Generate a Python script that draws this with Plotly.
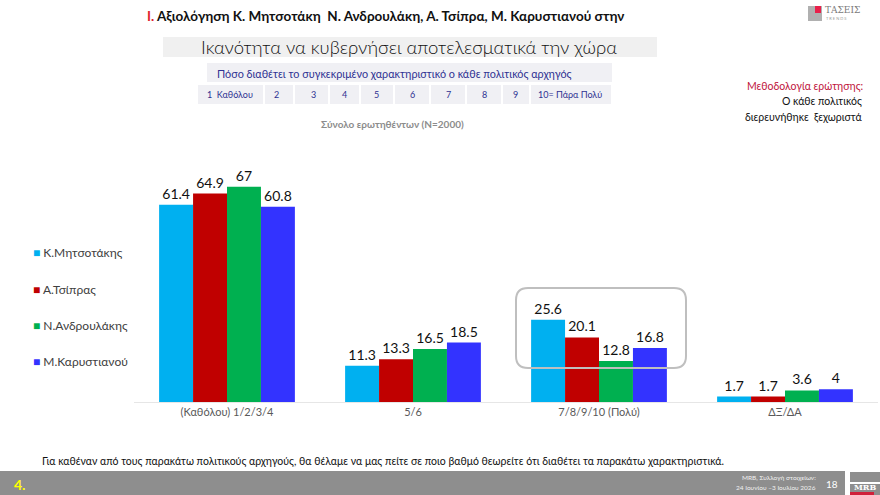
import plotly.graph_objects as go

categories = ["(Καθόλου) 1/2/3/4", "5/6", "7/8/9/10 (Πολύ)", "ΔΞ/ΔΑ"]
series_names = ["Κ.Μητσοτάκης", "Α.Τσίπρας", "Ν.Ανδρουλάκης", "Μ.Καρυστιανού"]
mitsotakis = [61.4, 11.3, 25.6, 1.7]
tsipras = [64.9, 13.3, 20.1, 1.7]
androulakis = [67, 16.5, 12.8, 3.6]
karystianou = [60.8, 18.5, 16.8, 4]
colors = ["#00B0F0", "#C00000", "#00B050", "#3333FF"]
scale_labels = ["1  Καθόλου", "2", "3", "4", "5", "6", "7", "8", "9", "10= Πάρα Πολύ"]

FONT = "Lato"
W, H = 880, 495
ML, MR, MT, MB = 134, 2, 145, 93
PW, PH = W - ML - MR, H - MT - MB


def X(px):
    return (px - ML) / PW


def Y(py):
    return 1 - (py - MT) / PH


fig = go.Figure()
for name, vals, col in zip(series_names, [mitsotakis, tsipras, androulakis, karystianou], colors):
    fig.add_trace(go.Bar(
        x=categories, y=vals, name=name, marker=dict(color=col, line=dict(width=0)),
        text=[f"{v:g}" for v in vals], textposition="outside",
        textfont=dict(family=FONT, size=14, color="#111111"), cliponaxis=False,
        showlegend=False,
    ))

annotations = []
shapes = []

# Legend (left)
leg_y = [252, 289, 325, 361]
for name, col, py in zip(series_names, colors, leg_y):
    annotations.append(dict(
        xref="paper", yref="paper", x=X(31), y=Y(py), xanchor="left", yanchor="middle",
        text=f"<span style='color:{col}'>■</span> {name}", showarrow=False,
        font=dict(family=FONT, size=12, color="#404040")))

# Top title
annotations.append(dict(
    xref="paper", yref="paper", x=X(145), y=Y(16), xanchor="left", yanchor="middle",
    text="<b><span style='color:#E0202A'>Ι.</span> Αξιολόγηση Κ. Μητσοτάκη  Ν. Ανδρουλάκη, Α. Τσίπρα, Μ. Καρυστιανού στην</b>",
    showarrow=False, font=dict(family=FONT, size=13.5, color="#111111")))

# Logo top-right
shapes.append(dict(type="rect", xref="paper", yref="paper", x0=X(808), x1=X(822), y0=Y(21), y1=Y(6),
                   fillcolor="#B0B0B0", line=dict(width=0)))
shapes.append(dict(type="rect", xref="paper", yref="paper", x0=X(815), x1=X(821), y0=Y(13), y1=Y(6),
                   fillcolor="#E8204A", line=dict(width=0)))
annotations.append(dict(xref="paper", yref="paper", x=X(823), y=Y(10), xanchor="left", yanchor="middle",
                        text="ΤΑΣΕΙΣ", showarrow=False, font=dict(family="DejaVu Serif", size=9, color="#7a7a7a")))
annotations.append(dict(xref="paper", yref="paper", x=X(824), y=Y(18), xanchor="left", yanchor="middle",
                        text="T R E N D S", showarrow=False, font=dict(family=FONT, size=4, color="#999999")))

# Main subtitle box
shapes.append(dict(type="rect", xref="paper", yref="paper", x0=X(163), x1=X(657), y0=Y(57), y1=Y(37),
                   fillcolor="#F0F0F0", line=dict(width=0), layer="below"))
annotations.append(dict(xref="paper", yref="paper", x=X(409), y=Y(47), xanchor="center", yanchor="middle",
                        text="Ικανότητα να κυβερνήσει αποτελεσματικά την χώρα", showarrow=False,
                        font=dict(family=FONT, size=18.5, color="#111111", weight=300)))

# Question box
shapes.append(dict(type="rect", xref="paper", yref="paper", x0=X(207), x1=X(612), y0=Y(82), y1=Y(63),
                   fillcolor="#F0F0F4", line=dict(width=0), layer="below"))
annotations.append(dict(xref="paper", yref="paper", x=X(215), y=Y(73), xanchor="left", yanchor="middle",
                        text="Πόσο διαθέτει το συγκεκριμένο χαρακτηριστικό ο κάθε πολιτικός αρχηγός", showarrow=False,
                        font=dict(family=FONT, size=10.8, color="#2E3192")))

# Scale row
cell_edges = [197, 264, 294, 329, 360, 394, 430, 466, 502, 530, 612]
scale_x = [230, 276, 313, 344, 376, 412, 448, 484, 515, 570]
for i in range(len(cell_edges) - 1):
    shapes.append(dict(type="rect", xref="paper", yref="paper", x0=X(cell_edges[i] + 1), x1=X(cell_edges[i + 1] - 1),
                       y0=Y(104), y1=Y(85), fillcolor="#F0F0F4", line=dict(width=0), layer="below"))
for lab, px in zip(scale_labels, scale_x):
    annotations.append(dict(xref="paper", yref="paper", x=X(px), y=Y(94), xanchor="center", yanchor="middle",
                            text=lab, showarrow=False, font=dict(family=FONT, size=9, color="#2E3192")))

# Methodology
annotations.append(dict(xref="paper", yref="paper", x=X(865), y=Y(86), xanchor="right", yanchor="middle",
                        text="Μεθοδολογία ερώτησης:", showarrow=False, font=dict(family=FONT, size=10.5, color="#C0143C")))
annotations.append(dict(xref="paper", yref="paper", x=X(864), y=Y(101), xanchor="right", yanchor="middle",
                        text="Ο κάθε πολιτικός", showarrow=False, font=dict(family=FONT, size=10.5, color="#111111")))
annotations.append(dict(xref="paper", yref="paper", x=X(864), y=Y(117), xanchor="right", yanchor="middle",
                        text="διερευνήθηκε  ξεχωριστά", showarrow=False, font=dict(family=FONT, size=10.5, color="#111111")))

# Sample note
annotations.append(dict(xref="paper", yref="paper", x=X(392), y=Y(124), xanchor="center", yanchor="middle",
                        text="<b>Σύνολο ερωτηθέντων (N=2000)</b>", showarrow=False,
                        font=dict(family=FONT, size=10, color="#8C8C8C")))

# Bottom question text
annotations.append(dict(xref="paper", yref="paper", x=X(40), y=Y(461), xanchor="left", yanchor="middle",
                        text="Για καθέναν από τους παρακάτω πολιτικούς αρχηγούς, θα θέλαμε να μας πείτε σε ποιο βαθμό θεωρείτε ότι διαθέτει τα παρακάτω χαρακτηριστικά.",
                        showarrow=False, font=dict(family=FONT, size=10.5, color="#111111")))

# Footer bar
shapes.append(dict(type="rect", xref="paper", yref="paper", x0=X(0), x1=X(845), y0=Y(495), y1=Y(471),
                   fillcolor="#8E8E8E", line=dict(width=0)))
annotations.append(dict(xref="paper", yref="paper", x=X(12), y=Y(484), xanchor="left", yanchor="middle",
                        text="<b>4.</b>", showarrow=False, font=dict(family=FONT, size=14, color="#FFFF00")))
annotations.append(dict(xref="paper", yref="paper", x=X(818), y=Y(477), xanchor="right", yanchor="middle",
                        text="MRB, Συλλογή στοιχείων:", showarrow=False, font=dict(family=FONT, size=6.5, color="#F0F0F0")))
annotations.append(dict(xref="paper", yref="paper", x=X(818), y=Y(487), xanchor="right", yanchor="middle",
                        text="24 Ιουνίου –3 Ιουλίου 2026", showarrow=False, font=dict(family=FONT, size=6.5, color="#F0F0F0")))
annotations.append(dict(xref="paper", yref="paper", x=X(832), y=Y(484), xanchor="center", yanchor="middle",
                        text="18", showarrow=False, font=dict(family=FONT, size=10, color="#FFFFFF")))
# MRB logo
shapes.append(dict(type="rect", xref="paper", yref="paper", x0=X(850), x1=X(880), y0=Y(482), y1=Y(472),
                   fillcolor="#8E8E8E", line=dict(width=0)))
shapes.append(dict(type="rect", xref="paper", yref="paper", x0=X(850), x1=X(880), y0=Y(495), y1=Y(484),
                   fillcolor="#8E8E8E", line=dict(width=0)))
annotations.append(dict(xref="paper", yref="paper", x=X(865), y=Y(487), xanchor="center", yanchor="middle",
                        text="<b>MRB</b>", showarrow=False, font=dict(family="DejaVu Serif", size=8, color="#FFFFFF")))
shapes.append(dict(type="rect", xref="paper", yref="paper", x0=X(850), x1=X(874), y0=Y(495), y1=Y(492),
                   fillcolor="#D0203A", line=dict(width=0)))

# Rounded highlight box around third category
x0, x1, y0, y1, r = 516, 686, 288, 368, 12
path_pts = (
    f"M {X(x0 + r)},{Y(y0)} L {X(x1 - r)},{Y(y0)} Q {X(x1)},{Y(y0)} {X(x1)},{Y(y0 + r)} "
    f"L {X(x1)},{Y(y1 - r)} Q {X(x1)},{Y(y1)} {X(x1 - r)},{Y(y1)} "
    f"L {X(x0 + r)},{Y(y1)} Q {X(x0)},{Y(y1)} {X(x0)},{Y(y1 - r)} "
    f"L {X(x0)},{Y(y0 + r)} Q {X(x0)},{Y(y0)} {X(x0 + r)},{Y(y0)} Z"
)
shapes.append(dict(type="path", xref="paper", yref="paper", path=path_pts,
                   line=dict(color="#BFBFBF", width=2), fillcolor="rgba(0,0,0,0)", layer="above"))

fig.update_layout(
    width=W, height=H, barmode="group", bargap=0.27, bargroupgap=0,
    margin=dict(l=ML, r=MR, t=MT, b=MB, autoexpand=False),
    plot_bgcolor="white", paper_bgcolor="white",
    font=dict(family=FONT),
    xaxis=dict(showline=True, linecolor="#E6E6E6", linewidth=1, ticks="", showgrid=False,
               tickfont=dict(family=FONT, size=11, color="#595959"), fixedrange=True),
    yaxis=dict(range=[0, 80], visible=False, showgrid=False, zeroline=False, fixedrange=True),
    shapes=shapes, annotations=annotations,
)

fig.write_html("out.html")
